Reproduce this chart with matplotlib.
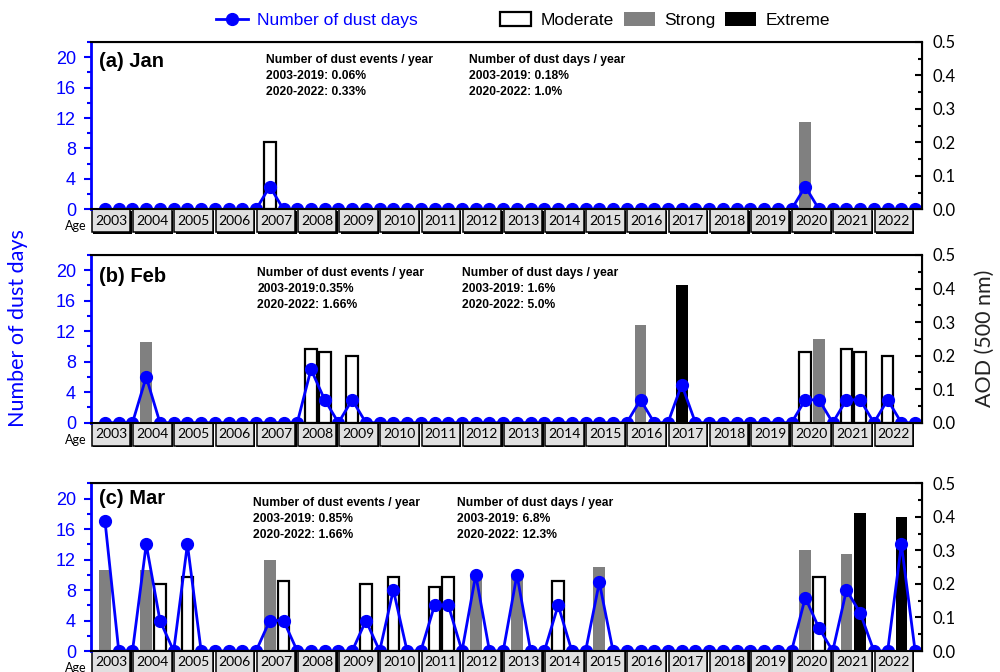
import numpy as np
import matplotlib.pyplot as plt
import matplotlib.patheffects as pe
from matplotlib.patches import Rectangle, Patch
from matplotlib.lines import Line2D
from matplotlib.ticker import MultipleLocator, FormatStrFormatter

years = list(range(2003, 2023))

# number of dust days, three values per year (one per ten-day period)
jan_days = [0, 0, 0,  0, 0, 0,  0, 0, 0,  0, 0, 0,  3, 0, 0,    # 2003-2007
            0, 0, 0,  0, 0, 0,  0, 0, 0,  0, 0, 0,  0, 0, 0,    # 2008-2012
            0, 0, 0,  0, 0, 0,  0, 0, 0,  0, 0, 0,  0, 0, 0,    # 2013-2017
            0, 0, 0,  0, 0, 0,  3, 0, 0,  0, 0, 0,  0, 0, 0]    # 2018-2022
feb_days = [0, 0, 0,  6, 0, 0,  0, 0, 0,  0, 0, 0,  0, 0, 0,
            7, 3, 0,  3, 0, 0,  0, 0, 0,  0, 0, 0,  0, 0, 0,
            0, 0, 0,  0, 0, 0,  0, 0, 0,  3, 0, 0,  5, 0, 0,
            0, 0, 0,  0, 0, 0,  3, 3, 0,  3, 3, 0,  3, 0, 0]
mar_days = [17, 0, 0,  14, 4, 0,  14, 0, 0,  0, 0, 0,  4, 4, 0,
            0, 0, 0,  0, 4, 0,  8, 0, 0,  6, 6, 0,  10, 0, 0,
            10, 0, 0,  6, 0, 0,  9, 0, 0,  0, 0, 0,  0, 0, 0,
            0, 0, 0,  0, 0, 0,  7, 3, 0,  8, 5, 0,  0, 14, 0]

# AOD bars: period number (1..60), AOD, class (M moderate, S strong, E extreme)
jan_idx = [13, 52]
jan_aod = [0.20, 0.26]
jan_cls = ['M', 'S']
feb_idx = [4, 16, 17, 19, 40, 43, 52, 53, 55, 56, 58]
feb_aod = [0.24, 0.22, 0.21, 0.20, 0.29, 0.41, 0.21, 0.25, 0.22, 0.21, 0.20]
feb_cls = ['S', 'M', 'M', 'M', 'S', 'E', 'M', 'S', 'M', 'M', 'M']
mar_idx = [1, 4, 5, 7, 13, 14, 20, 22, 25, 26, 28, 31, 34, 37, 52, 53, 55, 56, 59]
mar_aod = [0.24, 0.24, 0.20, 0.22, 0.27, 0.21, 0.20, 0.22, 0.19, 0.22,
           0.23, 0.23, 0.21, 0.25, 0.30, 0.22, 0.29, 0.41, 0.40]
mar_cls = ['S', 'S', 'M', 'M', 'S', 'M', 'M', 'M', 'M', 'M',
           'S', 'S', 'M', 'S', 'S', 'M', 'S', 'E', 'E']

panel_names = ['(a) Jan', '(b) Feb', '(c) Mar']
events_txt = [['2003-2019: 0.06%', '2020-2022: 0.33%'],
              ['2003-2019:0.35%', '2020-2022: 1.66%'],
              ['2003-2019: 0.85%', '2020-2022: 1.66%']]
days_txt = [['2003-2019: 0.18%', '2020-2022: 1.0%'],
            ['2003-2019: 1.6%', '2020-2022: 5.0%'],
            ['2003-2019: 6.8%', '2020-2022: 12.3%']]

ARIAL = 'Liberation Sans'
CALI = 'Lato'

fig = plt.figure(figsize=(10, 6.72), dpi=100)

rects = [[0.0913, 0.6885, 0.8304, 0.2490],
         [0.0913, 0.3710, 0.8304, 0.2496],
         [0.0913, 0.03125, 0.8304, 0.2496]]
txt_x = [(0.2104, 0.4548), (0.1999, 0.4460), (0.1944, 0.4408)]
txt_y = [0.892, 0.891, 0.881]
lab_y = [0.886, 0.871, 0.912]

all_days = [jan_days, feb_days, mar_days]
all_bars = [(jan_idx, jan_aod, jan_cls), (feb_idx, feb_aod, feb_cls), (mar_idx, mar_aod, mar_cls)]
styles = {'M': dict(facecolor='white', edgecolor='black', linewidth=1.6),
          'S': dict(facecolor='#808080', edgecolor='none'),
          'E': dict(facecolor='black', edgecolor='none')}

x = np.arange(1, 61)
shadow = [pe.SimplePatchShadow(offset=(1.0, -1.0), shadow_rgbFace='black', alpha=1), pe.Normal()]

for p in range(3):
    ax = fig.add_axes(rects[p])
    ax2 = ax.twinx()
    ax.set_zorder(ax2.get_zorder() + 1)
    ax.patch.set_visible(False)

    idx, aod, cls = all_bars[p]
    for c in ['M', 'S', 'E']:
        xs = [i for i, k in zip(idx, cls) if k == c]
        hs = [a for a, k in zip(aod, cls) if k == c]
        if xs:
            ax2.bar(xs, hs, width=0.85, **styles[c])

    ax.plot(x, all_days[p], color='blue', lw=2, marker='o', ms=8.5)

    ax.set_xlim(0, 60.48)
    ax.set_ylim(0, 22)
    ax2.set_ylim(0, 0.5)
    ax.set_xticks([])
    ax.set_yticks(range(0, 21, 4))
    ax.yaxis.set_minor_locator(MultipleLocator(2))
    ax.tick_params(axis='y', which='major', colors='blue', direction='out',
                   length=5, width=1.5, labelsize=13, pad=6)
    ax.tick_params(axis='y', which='minor', colors='blue', direction='out',
                   length=3, width=1.5)
    for lbl in ax.get_yticklabels():
        lbl.set_family(ARIAL)
    ax.spines['left'].set_color('blue')
    ax.spines['left'].set_linewidth(2)
    for s in ['top', 'right', 'bottom']:
        ax.spines[s].set_linewidth(1.5)
    ax2.spines['left'].set_visible(False)

    ax2.set_yticks(np.arange(0, 0.51, 0.1))
    ax2.yaxis.set_minor_locator(MultipleLocator(0.05))
    ax2.yaxis.set_major_formatter(FormatStrFormatter('%.1f'))
    ax2.tick_params(axis='y', which='major', direction='in', length=5,
                    width=1.5, labelsize=12, pad=8)
    ax2.tick_params(axis='y', which='minor', direction='in', length=3, width=1.5)
    for lbl in ax2.get_yticklabels():
        lbl.set_family(CALI)

    # year table under the axis
    tr = ax.get_xaxis_transform()
    th = 0.137
    for j, yr in enumerate(years):
        cell = Rectangle((3 * j + 0.05, -th), 2.8, th, transform=tr,
                         facecolor='#e0e0e0', edgecolor='black', lw=1.1,
                         clip_on=False)
        cell.set_path_effects(shadow)
        ax.add_patch(cell)
        ax.text(3 * j + 1.45, -th / 2, str(yr), transform=tr, ha='center',
                va='center', fontsize=10, family=CALI)
    ax.text(-1.15, -th * 0.74, 'Age', transform=tr, ha='center', va='center',
            fontsize=9, family=CALI)

    ax.text(0.0096, lab_y[p], panel_names[p], transform=ax.transAxes,
            fontsize=14.5, fontweight='bold', family=ARIAL, va='center')

    dy = 0.094
    blocks = [['Number of dust events / year'] + events_txt[p],
              ['Number of dust days / year'] + days_txt[p]]
    for b, lines in enumerate(blocks):
        for k, t in enumerate(lines):
            ax.text(txt_x[p][b], txt_y[p] - k * dy, t, transform=ax.transAxes,
                    fontsize=8.7, fontweight='bold', family=ARIAL, va='center')

fig.text(0.0185, 0.512, 'Number of dust days', rotation=90, color='blue',
         fontsize=15.5, family=CALI, ha='center', va='center')
fig.text(0.985, 0.497, 'AOD (500 nm)', rotation=90, color='#222222',
         fontsize=15.5, family=CALI, ha='center', va='center')

h1 = [Line2D([], [], color='blue', lw=2, marker='o', ms=8.5)]
leg1 = fig.legend(h1, ['Number of dust days'], loc='center left',
                  bbox_to_anchor=(0.2156, 0.970), frameon=False, borderpad=0,
                  borderaxespad=0, handlelength=1.87, handletextpad=0.52,
                  prop={'family': ARIAL, 'size': 12.5})
for t in leg1.get_texts():
    t.set_color('blue')

h2 = [Patch(facecolor='white', edgecolor='black', lw=1.6),
      Patch(facecolor='#808080', edgecolor='none'),
      Patch(facecolor='black', edgecolor='none')]
fig.legend(h2, ['Moderate', 'Strong', 'Extreme'], loc='center left',
           bbox_to_anchor=(0.500, 0.970), ncol=3, frameon=False, borderpad=0,
           borderaxespad=0, handlelength=1.8, handleheight=0.8,
           handletextpad=0.52, columnspacing=0.58,
           prop={'family': ARIAL, 'size': 12.5})

fig.savefig('out.png', dpi=100)
